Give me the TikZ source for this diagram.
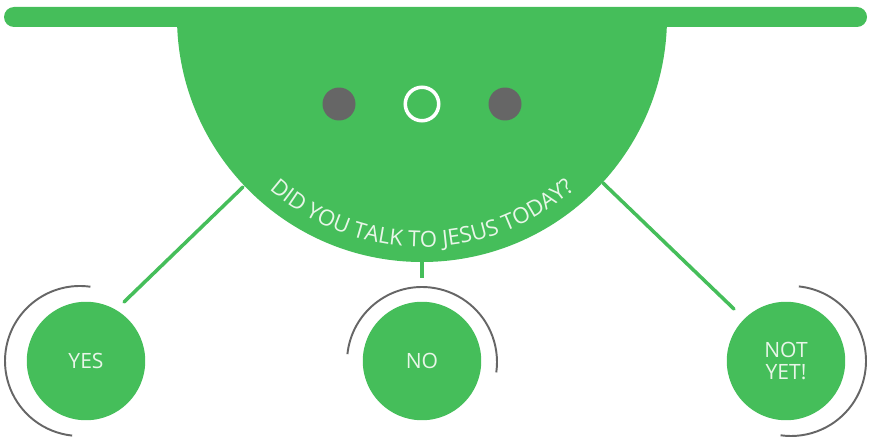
\documentclass[tikz,border=0pt]{standalone}
\usepackage{fontspec}
\setmainfont{Open Sans}
\usetikzlibrary{decorations.text}
\definecolor{leaf}{RGB}{69,190,90}
\definecolor{slate}{RGB}{102,102,102}
\definecolor{pale}{RGB}{232,246,232}

\begin{document}
\begin{tikzpicture}[
  x=.02cm, y=.02cm,
  answer/.style={circle, fill=leaf, minimum size=2.37cm, inner sep=0pt, text=pale,
                 font=\fontsize{12}{12.6}\selectfont, align=center},
  eye/.style={circle, fill=slate, minimum size=.66cm, inner sep=0pt},
  link/.style={leaf, line width=2pt, line cap=round},
  orbit/.style={slate, line width=1.1pt}
]
  \useasboundingbox (0,0) rectangle (872,-439);
  % bar and bowl
  \fill[leaf, rounded corners=.2cm] (4,-7) rectangle (867,-27);
  \fill[leaf] (177,-17) arc[start angle=180, end angle=360, radius=245] -- cycle;
  \node[eye] (eyeL) at (339,-104) {};
  \node[circle, draw=white, line width=2pt, minimum size=.67cm, inner sep=0pt] (ring) at (422,-104) {};
  \node[eye] (eyeR) at (505,-104) {};
  \path[decorate, decoration={text along path, text align=center,
        text={|\fontsize{12.6}{14}\selectfont\color{pale}|DID YOU TALK TO JESUS TODAY?}}]
    (422,-17) ++(222:230) arc[start angle=222, end angle=318, radius=230];

  \node[answer] (yes) at (86,-361) {YES};
  \node[answer] (no) at (422,-361) {NO};
  \node[answer] (notyet) at (786,-361) {NOT\\YET!};

  \coordinate (lipL) at (243,-187);
  \coordinate (lipB) at (422,-262);
  \coordinate (lipR) at (603,-183);
  \coordinate (yesTip) at (124,-302);
  \coordinate (noTip) at (422,-278);
  \coordinate (notTip) at (734,-309);
  \draw[link] (lipL) -- (yesTip);
  \draw[link, line cap=butt] (lipB) -- (noTip);
  \draw[link] (lipR) -- (notTip);

  \draw[orbit] (80,-361) ++(82:75) arc[start angle=82, end angle=264, radius=75];
  \draw[orbit] (422,-362) ++(174:75) arc[start angle=174, end angle=-8, radius=75];
  \draw[orbit] (791,-361) ++(84:75) arc[start angle=84, end angle=-98, radius=75];
\end{tikzpicture}
\end{document}
